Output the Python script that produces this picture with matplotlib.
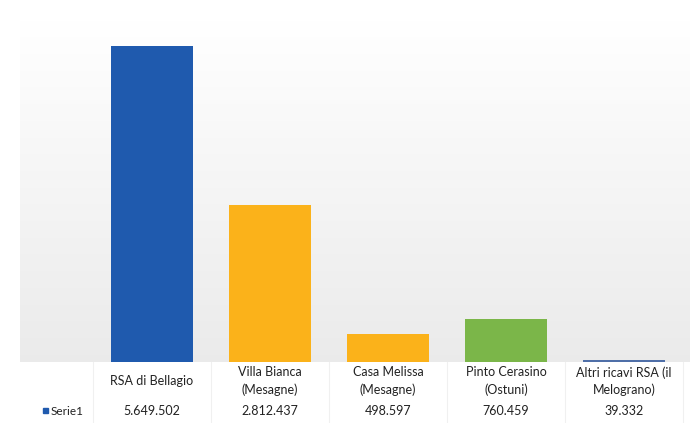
import numpy as np
import matplotlib.pyplot as plt
from matplotlib.patches import Rectangle

categories = ['RSA di Bellagio', 'Villa Bianca\n(Mesagne)', 'Casa Melissa\n(Mesagne)',
              'Pinto Cerasino\n(Ostuni)', 'Altri ricavi RSA (il\nMelograno)']
values = [5649502, 2812437, 498597, 760459, 39332]
value_labels = ['5.649.502', '2.812.437', '498.597', '760.459', '39.332']
series_name = 'Serie1'
colors = ['#1f5aae', '#fbb21a', '#fbb21a', '#7bb649', '#4f6fa8']

plt.rcParams['font.family'] = ['Lato', 'DejaVu Sans']

fig = plt.figure(figsize=(6.94, 4.23), dpi=100)
W, H = 694, 423

# plot area background: light grey gradient, whiter at top
bg = fig.add_axes([20 / W, 1 - 362 / H, 670 / W, 342 / H], zorder=0)
shade = np.linspace(0.92, 1.0, 256).reshape(-1, 1)
rgb = np.dstack([shade, shade, shade])
bg.imshow(rgb, aspect='auto', extent=[0, 1, 0, 1], origin='lower')
bg.axis('off')

ax = fig.add_axes([93 / W, 1 - 362 / H, 590 / W, 335.6 / H], zorder=1)
ax.patch.set_alpha(0)
x = np.arange(len(values))
ax.bar(x, values, width=0.70, color=colors, zorder=3)
ax.set_xlim(-0.5, len(values) - 0.5)
ax.set_ylim(0, 6000000)
ax.axis('off')

# data table below the plot
tab = fig.add_axes([0, 0, 1, 61 / H], zorder=1)
tab.set_xlim(0, W)
tab.set_ylim(423, 362)
tab.axis('off')
col_w = 118
for i, (cat, lab) in enumerate(zip(categories, value_labels)):
    cx = 93 + col_w * (i + 0.5)
    tab.text(cx, 381, cat, ha='center', va='center', fontsize=9,
             linespacing=1.45, color='#222222')
    tab.text(cx, 411, lab, ha='center', va='center', fontsize=9, color='#222222')
for i in range(len(values) + 1):
    xv = 93 + col_w * i
    tab.plot([xv, xv], [362, 423], color='#f0f0f0', lw=0.8)
tab.add_patch(Rectangle((43, 408), 5, 5, color=colors[0]))
tab.text(51, 411, series_name, ha='left', va='center', fontsize=8.5, color='#222222')

fig.savefig('out.png', dpi=100, facecolor='white')
